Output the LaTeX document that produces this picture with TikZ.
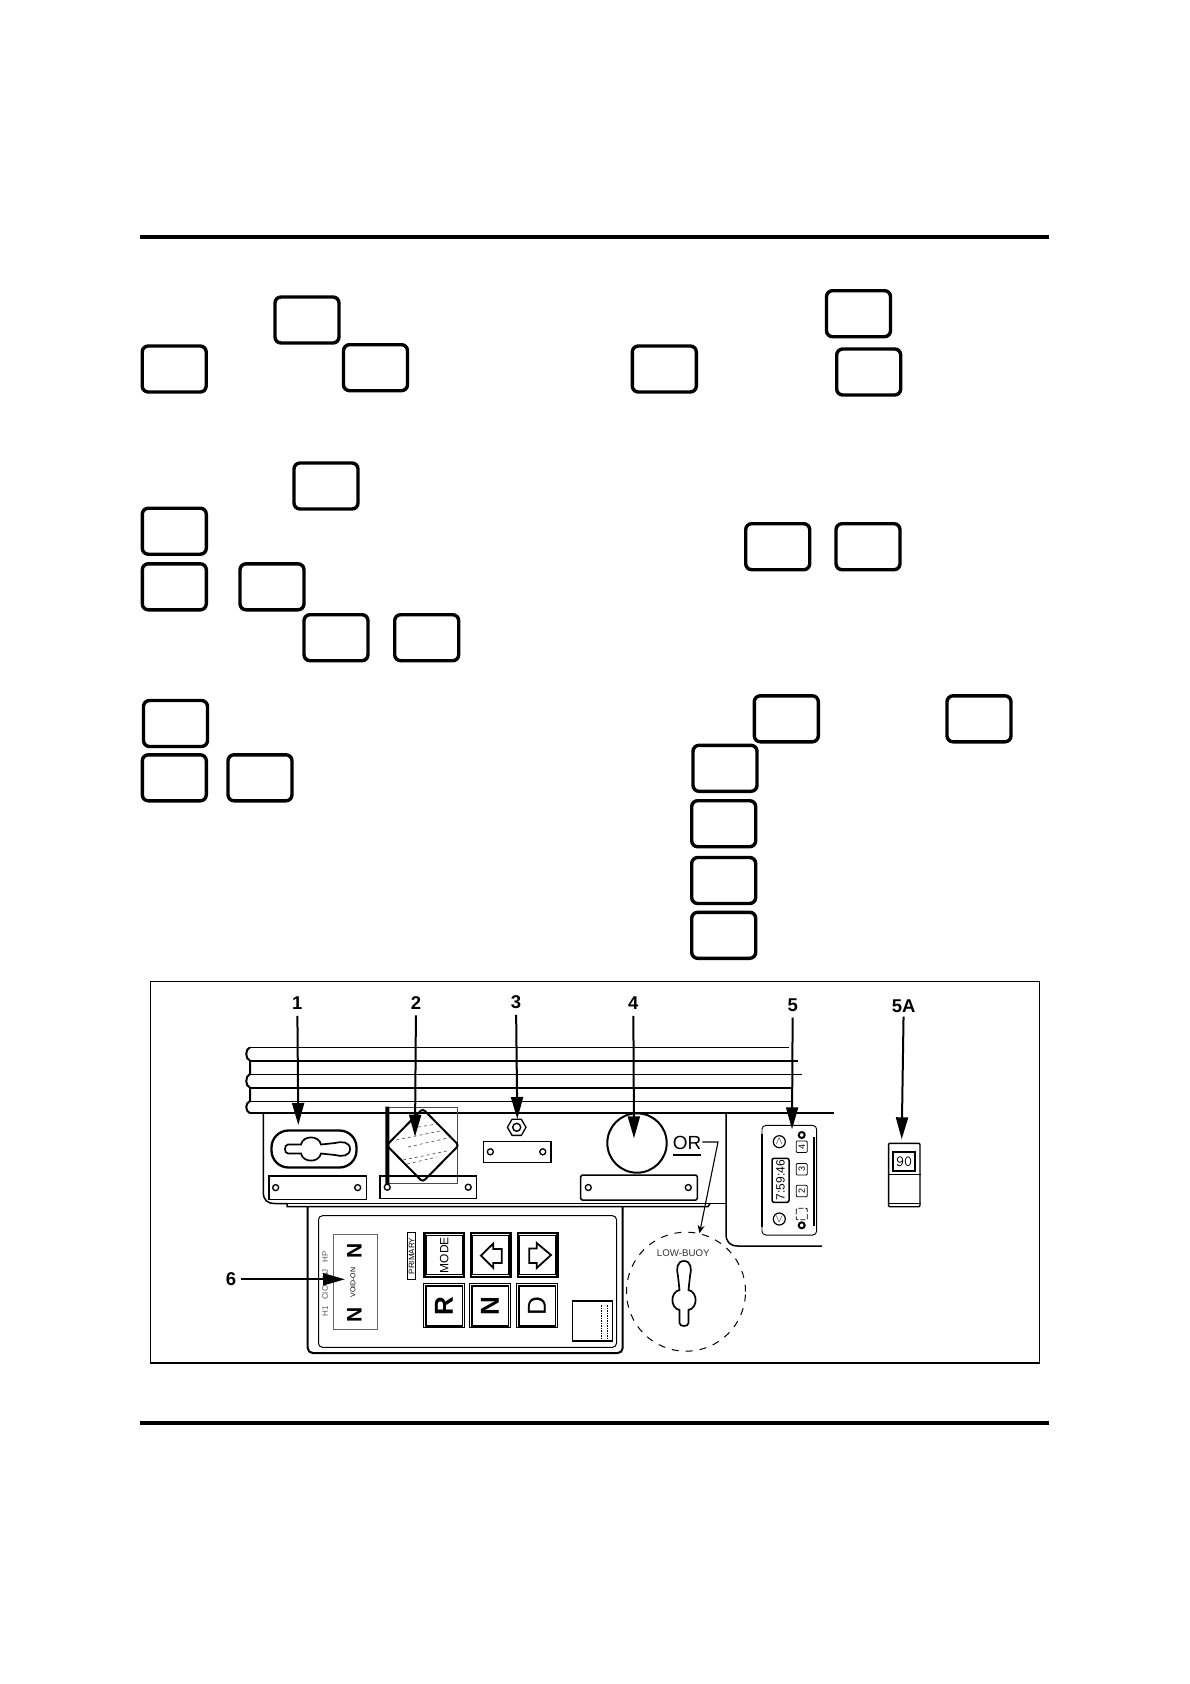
\documentclass[tikz,border=0pt]{standalone}
\usepackage{fontspec}
\setmainfont{Liberation Sans}
\usepackage{tikz}
\usetikzlibrary{positioning,shapes,arrows.meta}

\begin{document}
\begin{tikzpicture}[x=1pt, y=-1pt,
    blankbox/.style={rectangle, draw=black, line width=3.4pt, rounded corners=6pt, minimum width=64pt, minimum height=46pt, inner sep=0pt},
    rulebar/.style={line width=4pt, draw=black},
    railthin/.style={line width=1pt, draw=black},
    railthick/.style={line width=2pt, draw=black},
    plate/.style={rectangle, draw=black, line width=1.5pt, inner sep=0pt, outer sep=0pt},
    screw/.style={circle, draw=black, line width=1.3pt, minimum size=6pt, inner sep=0pt, outer sep=0pt},
    callout/.style={-{Triangle[length=22pt,width=12pt]}, line width=2pt, draw=black},
    leader/.style={-{Stealth[length=8pt,width=7pt]}, line width=1.1pt, draw=black},
    numlabel/.style={font=\fontsize{18.5pt}{20pt}\selectfont\bfseries, inner sep=1pt},
    keyout/.style={rectangle, draw=black, line width=2.2pt, minimum width=39.5pt, minimum height=43.5pt, inner sep=0pt, outer sep=0pt},
    keyoutlow/.style={keyout, line width=0.8pt, minimum width=41pt, minimum height=44pt},
    keyface/.style={rectangle, draw=black, line width=0.8pt, minimum width=36pt, minimum height=38.5pt, inner sep=0pt},
    keyfacelow/.style={keyface, line width=1.5pt, minimum height=40pt},
    iconbox/.style={rectangle, draw=black, line width=0.8pt, rounded corners=1pt, minimum width=11.5pt, minimum height=11pt, inner sep=0pt, rotate=90, font=\fontsize{9pt}{9pt}\selectfont},
    roundkey/.style={circle, draw=black, line width=1.2pt, minimum size=12pt, inner sep=0pt, font=\fontsize{11pt}{11pt}\selectfont},
    keyslot/.pic={
        \draw[line width=1.7pt] (-23,-4.5) -- (-10,-4.5) .. controls (-8,-14) and (8,-14) .. (10,-4.5) -- (24,-6)
            .. controls (31,-8) and (39,-7) .. (39,0) .. controls (39,7) and (31,8) .. (24,6) -- (10,4.5)
            .. controls (8,14) and (-8,14) .. (-10,4.5) -- (-23,4.5) .. controls (-27,4.5) and (-27,-4.5) .. (-23,-4.5) -- cycle;
    }
]
    % Page
    \useasboundingbox (0,0) rectangle (1190,1684);
    \fill[white] (0,0) rectangle (1190,1684);
    \coordinate (topleft) at (140,237);
    \coordinate (topright) at (1049,237);
    \coordinate (lowleft) at (140,1423);
    \coordinate (lowright) at (1049,1423);
    \draw[rulebar] (topleft) -- (topright);
    \draw[rulebar] (lowleft) -- (lowright);

    % Blank boxes
    \node[blankbox] (boxa) at (307,320) {};
    \node[blankbox] (boxb) at (174.2,369) {};
    \node[blankbox] (boxc) at (375.5,367.7) {};
    \node[blankbox] (boxd) at (664.3,369) {};
    \node[blankbox] (boxe) at (858.5,313.7) {};
    \node[blankbox] (boxf) at (868.7,372) {};
    \node[blankbox] (boxg) at (326,486) {};
    \node[blankbox] (boxh) at (174.3,531.2) {};
    \node[blankbox] (boxi) at (174.3,586.8) {};
    \node[blankbox] (boxj) at (272,586.8) {};
    \node[blankbox] (boxk) at (777.7,546.7) {};
    \node[blankbox] (boxl) at (868,546.7) {};
    \node[blankbox] (boxm) at (336,637.7) {};
    \node[blankbox] (boxn) at (426.7,637.7) {};
    \node[blankbox] (boxo) at (175.5,723.5) {};
    \node[blankbox] (boxp) at (174.3,777.8) {};
    \node[blankbox] (boxq) at (260,777.8) {};
    \node[blankbox] (boxr) at (786.3,718.8) {};
    \node[blankbox] (boxs) at (979,718.8) {};
    \node[blankbox] (boxt) at (725,768.3) {};
    \node[blankbox] (boxu) at (723.7,823.7) {};
    \node[blankbox] (boxv) at (723.7,880.5) {};
    \node[blankbox] (boxw) at (723.7,935.3) {};

    % Frame
    \node[rectangle, draw=black, line width=1pt, minimum width=889pt, minimum height=381pt, inner sep=0pt] (frame) at (594.5,1171.5) {};
    \draw[line width=2pt] (frame.south west) -- (frame.south east);

    % Rail
    \draw[railthin] (250,1047.3) -- (788.7,1047.3);
    \draw[railthick] (250,1060.7) -- (798,1060.7);
    \draw[railthin] (250,1074) -- (802,1074);
    \draw[railthick] (250,1087.7) -- (791.7,1087.7);
    \draw[railthin] (250,1101) -- (791.7,1101);
    \draw[railthick] (250,1113.3) -- (834,1113.3);
    \draw[railthick] (250,1047.3) .. controls (245,1049) and (245,1059) .. (250,1060.7) -- (250,1074)
        .. controls (245,1076) and (245,1086) .. (250,1087.7) -- (250,1101)
        .. controls (245,1103) and (245,1111) .. (250,1113.3);

    % Panel edges
    \draw[line width=1.5pt] (263.3,1113.3) -- (263.3,1192) .. controls (263.3,1200) and (267,1203.5) .. (275,1203.5) -- (287,1203.5);
    \draw[line width=0.8pt] (287,1203.5) -- (726,1203.5);
    \draw[line width=1.5pt] (287,1203.5) -- (287,1206.7) -- (708,1206.7) -- (710,1203.5);
    \draw[line width=1.5pt] (726,1113.3) -- (726,1234) .. controls (726,1242) and (730,1246) .. (738,1246) -- (822,1246);

    % Item 1
    \node[rectangle, draw=black, line width=2.3pt, rounded corners=17pt, minimum width=85pt, minimum height=37pt, inner sep=0pt] (handle) at (314,1149) {};
    \pic at (311,1149) {keyslot};
    \node[plate, minimum width=97.7pt, minimum height=23.3pt] (plate1) at (317.8,1187.6) {};
    \node[screw, right=3.7pt of plate1.west] (screw1a) {};
    \node[screw, left=6pt of plate1.east] (screw1b) {};

    % Item 2
    \draw[line width=0.6pt, draw=black!70] (387,1107.3) rectangle (457.7,1183.3);
    \node[diamond, draw=black, line width=2pt, rounded corners=3pt, minimum width=73pt, minimum height=74pt, inner sep=0pt] (dial) at (422.7,1145.3) {};
    \draw[line width=0.6pt, dashed, draw=black!70] (418,1127) -- (437,1124);
    \draw[line width=0.6pt, dashed, draw=black!70] (396,1140) -- (440,1131);
    \draw[line width=0.6pt, dashed, draw=black!70] (408,1147) -- (452,1137);
    \draw[line width=0.6pt, dashed, draw=black!70] (403,1160) -- (447,1151);
    \draw[line width=0.6pt, dashed, draw=black!70] (407,1164) -- (437,1157);
    \node[plate, minimum width=96.7pt, minimum height=22.3pt] (plate2) at (428.3,1187.2) {};
    \draw[line width=2.5pt] (plate2.north west) -- (plate2.north east);
    \node[screw, right=4.3pt of plate2.west] (screw2a) {};
    \node[screw, left=5.4pt of plate2.east] (screw2b) {};
    \draw[line width=4pt] (387.3,1106.7) -- (screw2a.north);

    % Item 3
    \node[regular polygon, regular polygon sides=6, draw=black, line width=1.3pt, minimum size=18.6pt, inner sep=0pt] (nut) at (516.7,1127.3) {};
    \node[circle, draw=black, line width=1.4pt, minimum size=8pt, inner sep=0pt] (nuthole) at (nut) {};
    \node[plate, minimum width=67.7pt, minimum height=21pt] (plate3) at (517.2,1151.8) {};
    \node[screw, right=4pt of plate3.west] (screw3a) {};
    \node[screw, left=5.3pt of plate3.east] (screw3b) {};

    % Item 4
    \node[circle, draw=black, line width=2pt, minimum size=59.4pt, inner sep=0pt] (gauge) at (637,1143) {};
    \node[plate, rounded corners=1.5pt, minimum width=116.6pt, minimum height=25pt] (plate4) at (639,1187.5) {};
    \node[screw, right=4.6pt of plate4.west] (screw4a) {};
    \node[screw, left=6pt of plate4.east] (screw4b) {};
    \node[font=\fontsize{19pt}{20pt}\selectfont, inner sep=1pt] (orlabel) at (687,1143) {OR};
    \draw[line width=1.2pt] (673,1155) -- (701,1155);

    % Low buoy inset
    \node[circle, draw=black, line width=1pt, dash pattern=on 7pt off 7pt, minimum size=119pt, inner sep=0pt] (buoy) at (686,1291.7) {};
    \node[font=\fontsize{9.7pt}{10pt}\selectfont, text=black!80, inner sep=0pt] (buoytext) at (683.3,1253) {LOW-BUOY};
    \pic[rotate=90] at (684,1300) {keyslot};
    \coordinate (orbend) at (718,1142);
    \draw[leader] (orlabel.east |- orbend) -- (orbend) -- (buoy.77);

    % Display panel
    \node[rectangle, draw=black, line width=0.9pt, rounded corners=4pt, minimum width=54.7pt, minimum height=109.7pt, inner sep=0pt] (display) at (789.3,1180.2) {};
    \draw[line width=1.5pt] (762,1134) -- (762,1227);
    \draw[line width=1.8pt] (814,1137) -- (814,1226);
    \node[roundkey] (keyup) at (779.3,1141.7) {$\wedge$};
    \node[roundkey] (keydown) at (779.3,1219) {$\vee$};
    \node[screw, line width=2pt] (screw5a) at (801.7,1135) {};
    \node[screw, line width=2pt] (screw5b) at (801.7,1225.3) {};
    \node[rectangle, draw=black, line width=1.5pt, rounded corners=2pt, minimum width=17pt, minimum height=44pt, inner sep=0pt] (clock) at (780.5,1180.3) {};
    \node[rotate=90, inner sep=0pt, font=\fontsize{12pt}{12pt}\selectfont] (clocktext) at (clock) {7:59:46};
    \node[iconbox] (icon4) at (801.7,1146.7) {4};
    \node[iconbox] (icon3) at (801.7,1169.3) {3};
    \node[iconbox] (icon2) at (801.7,1191) {2};
    \node[iconbox, dash pattern=on 5pt off 2pt] (icon1) at (801.7,1214) {};

    % Item 5A
    \node[rectangle, draw=black, line width=1.4pt, rounded corners=1pt, minimum width=31.3pt, minimum height=63.4pt, inner sep=0pt] (remote) at (904.3,1175) {};
    \node[rectangle, draw=black, line width=2pt, minimum width=21.7pt, minimum height=19pt, inner sep=0pt, font=\fontsize{15.5pt}{15pt}\selectfont\ttfamily] (remotescreen) at (904.2,1161.8) {90};
    \draw[line width=0.6pt] (remote.west |- 0,1174) -- (remote.east |- 0,1174);
    \draw[line width=0.8pt] (remote.west |- 0,1203) -- (remote.east |- 0,1203);

    % Keypad
    \draw[line width=2pt, rounded corners=5pt] (307.7,1207) -- (307.7,1353) -- (622.7,1353) -- (622.7,1207);
    \node[rectangle, draw=black, line width=1pt, rounded corners=4pt, minimum width=298pt, minimum height=131.6pt, inner sep=0pt] (padinner) at (467.5,1281.5) {};
    \node[rectangle, draw=black!60, line width=1pt, minimum width=44pt, minimum height=95pt, inner sep=0pt] (window) at (355.3,1281.8) {};
    \node[rotate=90, font=\fontsize{21pt}{21pt}\selectfont\bfseries, inner sep=0pt] (windowtop) at (354.3,1250.7) {N};
    \node[rotate=90, font=\fontsize{21pt}{21pt}\selectfont\bfseries, inner sep=0pt] (windowlow) at (354.3,1315) {N};
    \node[rotate=90, font=\fontsize{7pt}{7pt}\selectfont, inner sep=0pt] (windowtext) at (353,1282.5) {VOID-ON};
    \node[rotate=90, font=\fontsize{8pt}{8pt}\selectfont, text=black!65, inner sep=0pt] (scaletext) at (325,1284) {H1\ \ \ CIO\ \ \ NJ\ \ \ HP};
    \node[rectangle, draw=black, line width=1.4pt, minimum width=8.4pt, minimum height=46.6pt, inner sep=0pt, font=\fontsize{8pt}{8pt}\selectfont] (modetag) at (411.5,1256) {\rotatebox{90}{PRIMARY}};

    \node[keyout] (keymode) at (444.2,1255) {};
    \node[keyface, rotate=90, minimum width=38.5pt, minimum height=36pt, font=\fontsize{12pt}{12pt}\selectfont] (facemode) at (keymode) {MODE};
    \node[keyout, right=7pt of keymode] (keyleft) {};
    \node[keyface] (faceleft) at (keyleft) {};
    \node[keyout, right=7.5pt of keyleft] (keyright) {};
    \node[keyface] (faceright) at (keyright) {};
    \draw[line width=1.8pt, line join=miter] (481,1255.5) -- (493.3,1243.5) -- (493.3,1249) -- (501.7,1249) -- (501.7,1263) -- (493.3,1263) -- (493.3,1268) -- cycle;
    \draw[line width=1.8pt, line join=miter] (551,1255) -- (536.7,1243) -- (536.7,1248.5) -- (529.3,1248.5) -- (529.3,1263) -- (536.7,1263) -- (536.7,1268) -- cycle;

    \node[keyoutlow] (keyr) at (444,1305.8) {};
    \node[keyfacelow, rotate=90, minimum width=40pt, minimum height=36.5pt, font=\fontsize{26pt}{26pt}\selectfont\bfseries] (facer) at (keyr) {R};
    \node[keyoutlow, right=5pt of keyr] (keyn) {};
    \node[keyfacelow, rotate=90, minimum width=40pt, minimum height=36.5pt, font=\fontsize{26pt}{26pt}\selectfont\bfseries] (facen) at (keyn) {N};
    \node[keyoutlow, right=6pt of keyn] (keyd) {};
    \node[keyfacelow, rotate=90, minimum width=40pt, minimum height=36.5pt, font=\fontsize{26pt}{26pt}\selectfont] (faced) at (keyd) {D};

    \node[rectangle, draw=black, line width=1.3pt, minimum width=39.6pt, minimum height=40pt, inner sep=0pt] (tagsquare) at (592.5,1321) {};
    \draw[line width=1.2pt, dash pattern=on 1.5pt off 1pt] (601.7,1305) -- (601.7,1338);
    \draw[line width=1.2pt, dash pattern=on 1.5pt off 1pt] (607.7,1305) -- (607.7,1338);

    % Callouts
    \node[numlabel] (num1) at (297.3,1003.3) {1};
    \node[numlabel] (num2) at (416,1002.7) {2};
    \node[numlabel] (num3) at (516,1002) {3};
    \node[numlabel] (num4) at (633.3,1003.3) {4};
    \node[numlabel] (num5) at (792.7,1005) {5};
    \node[numlabel] (num5a) at (903.7,1006) {5A};
    \node[numlabel] (num6) at (231,1279.3) {6};
    \coordinate (tip1) at (298.3,1125);
    \coordinate (tip2) at (415,1136.7);
    \coordinate (tip3) at (517.3,1119);
    \coordinate (tip4) at (634,1138.3);
    \coordinate (tip5) at (792,1129.3);
    \coordinate (tip5a) at (901.7,1139.3);
    \coordinate (tip6) at (345,1279.3);
    \draw[callout, shorten <=5pt] (num1) -- (tip1);
    \draw[callout, shorten <=5pt] (num2) -- (tip2);
    \draw[callout, shorten <=5pt] (num3) -- (tip3);
    \draw[callout, shorten <=5pt] (num4) -- (tip4);
    \draw[callout, shorten <=5pt] (num5) -- (tip5);
    \draw[callout, shorten <=3pt] (num5a) -- (tip5a);
    \draw[callout, shorten <=4pt] (num6) -- (tip6);
\end{tikzpicture}
\end{document}
